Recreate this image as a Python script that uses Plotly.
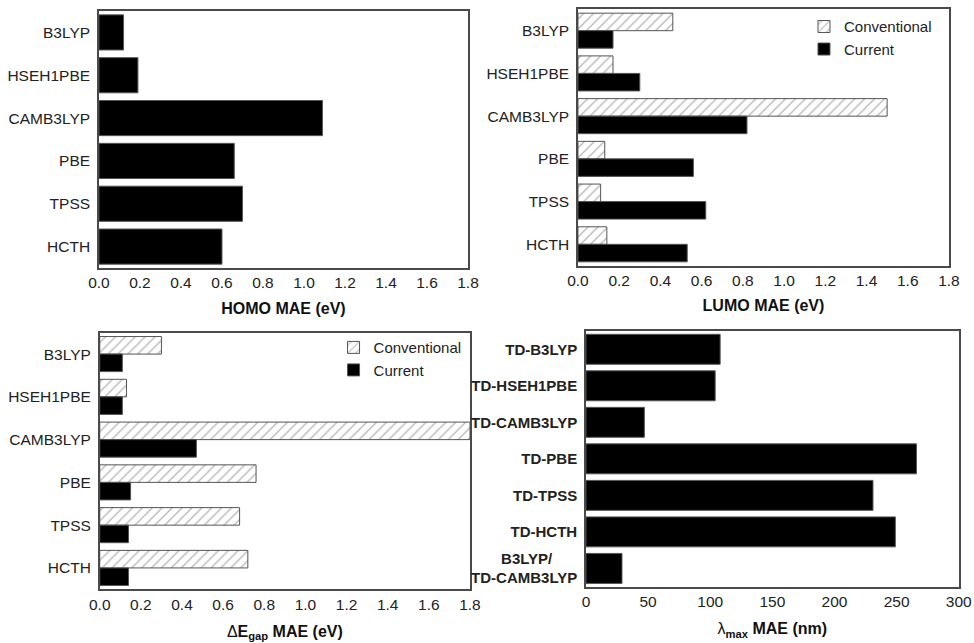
import plotly.graph_objects as go

# ---------------- data ----------------
methods = ["B3LYP", "HSEH1PBE", "CAMB3LYP", "PBE", "TPSS", "HCTH"]

homo_current = [0.12, 0.19, 1.09, 0.66, 0.70, 0.60]

lumo_conventional = [0.46, 0.17, 1.50, 0.13, 0.11, 0.14]
lumo_current = [0.17, 0.30, 0.82, 0.56, 0.62, 0.53]

gap_conventional = [0.30, 0.13, 1.80, 0.76, 0.68, 0.72]
gap_current = [0.11, 0.11, 0.47, 0.15, 0.14, 0.14]

td_methods = ["TD-B3LYP", "TD-HSEH1PBE", "TD-CAMB3LYP", "TD-PBE",
              "TD-TPSS", "TD-HCTH", "B3LYP/<br>TD-CAMB3LYP"]
td_labels = ["TD-B3LYP", "TD-HSEH1PBE", "TD-CAMB3LYP", "TD-PBE",
             "TD-TPSS", "TD-HCTH", "B3LYP/\u00a0\u00a0\u00a0\u00a0\u00a0\u00a0<br>TD-CAMB3LYP"]
lambda_mae = [108, 104, 47, 266, 231, 249, 29]

ev_ticks = [0.0, 0.2, 0.4, 0.6, 0.8, 1.0, 1.2, 1.4, 1.6, 1.8]
nm_ticks = [0, 50, 100, 150, 200, 250, 300]

FONT = "Liberation Sans, Arial, sans-serif"
BLACK = "#000000"
EDGE = "#555555"

fig = go.Figure()

def solid(x, y, xa, ya, name, legend=None, show=False):
    return go.Bar(x=x, y=y, orientation="h", xaxis=xa, yaxis=ya, name=name,
                  marker=dict(color=BLACK, line=dict(color=EDGE, width=1)),
                  showlegend=show, legend=legend)

def hatched(x, y, xa, ya, name, legend=None, show=False):
    return go.Bar(x=x, y=y, orientation="h", xaxis=xa, yaxis=ya, name=name,
                  marker=dict(color="white", line=dict(color=EDGE, width=1),
                              pattern=dict(shape="/", fgcolor="#6a6a6a", bgcolor="white",
                                           size=7, solidity=0.18)),
                  showlegend=show, legend=legend)

# panel 1
fig.add_trace(solid(homo_current, methods, "x", "y", "Current"))
# panel 2
fig.add_trace(hatched(lumo_conventional, methods, "x2", "y2", "Conventional", "legend", True))
fig.add_trace(solid(lumo_current, methods, "x2", "y2", "Current", "legend", True))
# panel 3
fig.add_trace(hatched(gap_conventional, methods, "x3", "y3", "Conventional", "legend2", True))
fig.add_trace(solid(gap_current, methods, "x3", "y3", "Current", "legend2", True))
# panel 4
fig.add_trace(solid(lambda_mae, td_methods, "x4", "y4", "λmax"))

tickfont = dict(family=FONT, size=15.5, color="#222")
titlefont = dict(family=FONT, size=16, color="#111", weight="bold")

def xax(domain, anchor, rng, ticks, title, fmt, standoff=12):
    return dict(domain=domain, anchor=anchor, range=rng, tickvals=ticks,
                tickformat=fmt, showgrid=False, zeroline=False, showline=True,
                mirror=True, linecolor="#4a4a4a", linewidth=1.5, ticks="",
                tickfont=tickfont, title=dict(text=title, font=titlefont, standoff=standoff),
                fixedrange=True, automargin=False)

def yax(domain, anchor, bold=False):
    f = dict(tickfont)
    if bold:
        f["weight"] = "bold"
        f["size"] = 15
    return dict(domain=domain, anchor=anchor, autorange="reversed", showgrid=False,
                zeroline=False, showline=True, mirror=True, linecolor="#4a4a4a",
                linewidth=1.5, ticks="", tickfont=f, ticklabelstandoff=4,
                automargin=False, fixedrange=True)

fig.update_layout(
    width=974, height=643, margin=dict(l=0, r=0, t=0, b=0, autoexpand=False),
    paper_bgcolor="white", plot_bgcolor="white",
    barmode="group", bargap=0.18, bargroupgap=0,
    font=dict(family=FONT, size=15, color="#222"),
    xaxis=xax([0.1016, 0.4805], "y", [0, 1.8], ev_ticks, "HOMO MAE (eV)", ".1f"),
    yaxis=yax([0.5832, 0.9829], "x"),
    xaxis2=xax([0.5934, 0.9743], "y2", [0, 1.8], ev_ticks, "LUMO MAE (eV)", ".1f"),
    yaxis2=yax([0.5868, 0.9855], "x2"),
    xaxis3=xax([0.1024, 0.4825], "y3", [0, 1.8], ev_ticks,
               "<span style='font-weight:normal'>Δ</span>E<sub>gap</sub> MAE (eV)", ".1f", 14),
    yaxis3=yax([0.0835, 0.4826], "x3"),
    xaxis4=xax([0.6016, 0.9843], "y4", [0, 300], nm_ticks,
               "<span style='font-weight:normal'>λ</span><sub>max</sub> MAE (nm)", "d", 14),
    yaxis4=dict(yax([0.0876, 0.4852], "x4", bold=True),
                tickvals=td_methods, ticktext=td_labels),
    legend=dict(x=0.962, y=0.984, xanchor="right", yanchor="top",
                bgcolor="rgba(0,0,0,0)", font=dict(family=FONT, size=15, color="#222"),
                tracegroupgap=0, itemwidth=30),
    legend2=dict(x=0.479, y=0.485, xanchor="right", yanchor="top",
                 bgcolor="rgba(0,0,0,0)", font=dict(family=FONT, size=15, color="#222"),
                 tracegroupgap=0, itemwidth=30),
)

fig.write_html("out.html")
